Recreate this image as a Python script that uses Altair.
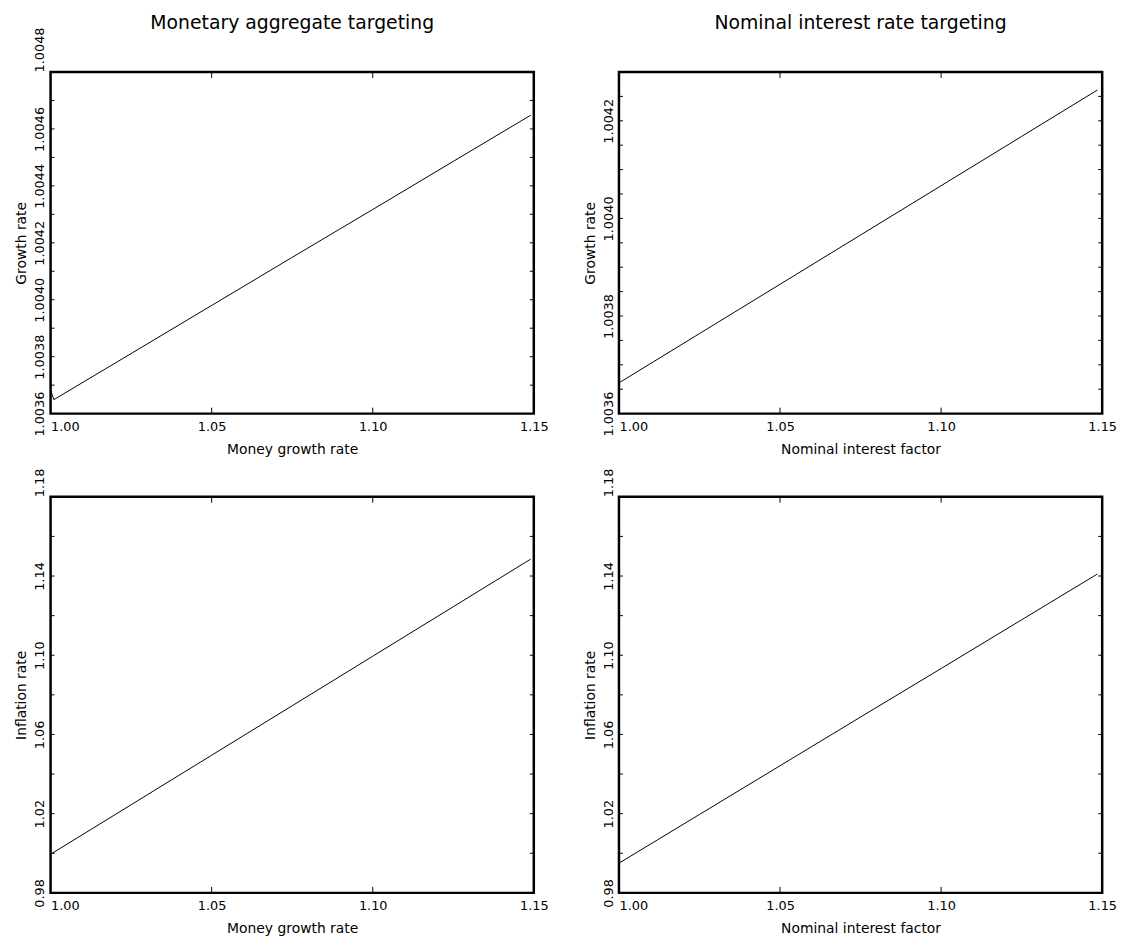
import altair as alt
import pandas as pd

# ---- data ----
money_growth_top = [1.000, 1.001, 1.025, 1.050, 1.075, 1.100, 1.125, 1.149]
growth_rate_money = [1.003683, 1.003649, 1.003811, 1.003980, 1.004149, 1.004317, 1.004486, 1.004648]

interest_top = [1.000, 1.025, 1.050, 1.075, 1.100, 1.125, 1.1485]
growth_rate_interest = [1.003663, 1.003764, 1.003865, 1.003966, 1.004067, 1.004168, 1.004263]

money_growth_bottom = [1.000, 1.025, 1.050, 1.075, 1.100, 1.125, 1.149]
inflation_money = [0.9995, 1.0245, 1.0495, 1.0745, 1.0995, 1.1245, 1.1485]

interest_bottom = [1.000, 1.025, 1.050, 1.075, 1.100, 1.125, 1.1485]
inflation_interest = [0.9950, 1.0196, 1.0442, 1.0688, 1.0933, 1.1179, 1.1410]

x_labels = [1.00, 1.05, 1.10, 1.15]
x_ticks = [1.05, 1.10]

growth_labels_money = [1.0036, 1.0038, 1.0040, 1.0042, 1.0044, 1.0046, 1.0048]
growth_ticks_money = [1.0037, 1.0038, 1.0039, 1.0040, 1.0041, 1.0042, 1.0043,
                      1.0044, 1.0045, 1.0046, 1.0047]
growth_labels_interest = [1.0036, 1.0038, 1.0040, 1.0042]
growth_ticks_interest = [1.00365, 1.0037, 1.00375, 1.0038, 1.00385, 1.0039, 1.00395,
                         1.0040, 1.00405, 1.0041, 1.00415, 1.0042, 1.00425]
inflation_labels = [0.98, 1.02, 1.06, 1.10, 1.14, 1.18]
inflation_ticks = [1.00, 1.02, 1.04, 1.06, 1.08, 1.10, 1.12, 1.14, 1.16]

FONT = "DejaVu Sans"
W = 488


def panel(xs, ys, xtitle, ytitle, ydom, ylab, ytk, yfmt, h, title=None, toff=0):
    xscale = alt.Scale(domain=[1.0, 1.15], nice=False, zero=False)
    yscale = alt.Scale(domain=ydom, nice=False, zero=False)
    ymax = ydom[1]
    xaxis = alt.Axis(values=x_labels, format=".2f", title=xtitle, ticks=False,
                     domain=False, grid=False,
                     labelAlign=alt.expr("datum.value <= 1.0 ? 'left' : 'center'"),
                     labelPadding=7, titlePadding=9)
    yaxis = alt.Axis(values=ylab, format=yfmt, title=ytitle, ticks=False,
                     domain=False, grid=False, labelAngle=270,
                     labelAlign=alt.expr(f"datum.value >= {ymax} - 1e-9 ? 'left' : 'center'"),
                     labelBaseline="bottom", labelPadding=4, titlePadding=5)
    line = alt.Chart(pd.DataFrame({"x": xs, "y": ys})).mark_line(
        color="black", strokeWidth=1).encode(
        x=alt.X("x:Q", scale=xscale, axis=xaxis),
        y=alt.Y("y:Q", scale=yscale, axis=yaxis))
    ydf = pd.DataFrame({"y": ytk})
    xdf = pd.DataFrame({"x": x_ticks})
    yl = alt.Chart(ydf).mark_rule(color="black", strokeWidth=1).encode(
        y=alt.Y("y:Q", scale=yscale), x=alt.value(0), x2=alt.value(4))
    yr = alt.Chart(ydf).mark_rule(color="black", strokeWidth=1).encode(
        y=alt.Y("y:Q", scale=yscale), x=alt.value(W - 4), x2=alt.value(W))
    xb = alt.Chart(xdf).mark_rule(color="black", strokeWidth=1).encode(
        x=alt.X("x:Q", scale=xscale), y=alt.value(h - 6), y2=alt.value(h))
    xt = alt.Chart(xdf).mark_rule(color="black", strokeWidth=1).encode(
        x=alt.X("x:Q", scale=xscale), y=alt.value(0), y2=alt.value(6))
    ch = alt.layer(line, yl, yr, xb, xt).properties(width=W, height=h)
    if title:
        ch = ch.properties(title=alt.TitleParams(title, fontSize=19, font=FONT,
                                                 fontWeight="normal", anchor="middle",
                                                 color="black", offset=toff))
    return ch


p1 = panel(money_growth_top, growth_rate_money, "Money growth rate", "Growth rate",
           [1.0036, 1.0048], growth_labels_money, growth_ticks_money, ".4f", 345,
           "Monetary aggregate targeting", -6.5)
p2 = panel(interest_top, growth_rate_interest, "Nominal interest factor", "Growth rate",
           [1.0036, 1.0043], growth_labels_interest, growth_ticks_interest, ".4f", 345,
           "Nominal interest rate targeting", 38.5)
p3 = panel(money_growth_bottom, inflation_money, "Money growth rate", "Inflation rate",
           [0.98, 1.18], inflation_labels, inflation_ticks, ".2f", 400)
p4 = panel(interest_bottom, inflation_interest, "Nominal interest factor", "Inflation rate",
           [0.98, 1.18], inflation_labels, inflation_ticks, ".2f", 400)

row1 = alt.hconcat(p1, p2, spacing=32)
row2 = alt.hconcat(p3, p4, spacing=32)
chart = alt.vconcat(row1, row2, spacing=8).properties(
    background="white",
    padding={"left": 5, "top": 0, "right": 3, "bottom": 3}
).configure_view(
    stroke="black", strokeWidth=2.5
).configure_axis(
    labelFont=FONT, labelFontSize=13, labelColor="black",
    titleFont=FONT, titleFontSize=14, titleFontWeight="normal", titleColor="black"
)

chart.save("out.html", embed_options={"renderer": "svg", "actions": False})
